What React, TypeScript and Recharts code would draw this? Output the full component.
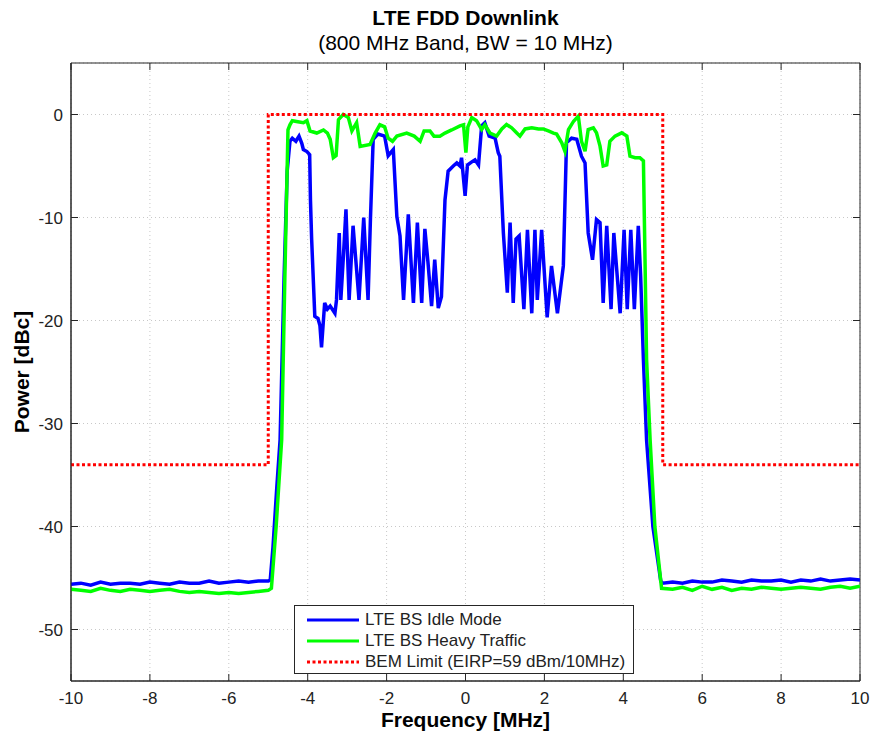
import React from 'react';
import { LineChart, Line, XAxis, YAxis, CartesianGrid, ReferenceArea } from 'recharts';

const xTicks = [-10, -8, -6, -4, -2, 0, 2, 4, 6, 8, 10];
const yTicks = [-50, -40, -30, -20, -10, 0];

const idleFreq = [
  -10, -9.75, -9.5, -9.25, -9, -8.75, -8.5, -8.25, -8, -7.75, -7.5, -7.25, -7, -6.75, -6.5, -6.25, -6, -5.75, -5.5, -5.25, -5,
  -4.95, -4.88, -4.78, -4.7, -4.6, -4.52, -4.45, -4.39, -4.3, -4.22, -4.15, -4.11, -4.02, -3.95, -3.93, -3.9, -3.82, -3.74, -3.69, -3.65,
  -3.57, -3.5, -3.43, -3.31, -3.27, -3.2, -3.16, -3.1, -3.03, -2.95, -2.85, -2.7, -2.58, -2.47, -2.41, -2.34, -2.22, -2.05, -1.96, -1.83,
  -1.74, -1.66, -1.57, -1.45, -1.32, -1.22, -1.11, -1.03, -0.95, -0.86, -0.78, -0.69, -0.61, -0.52, -0.44, -0.31, -0.22, -0.14, -0.1, -0.01,
  0.05, 0.16, 0.24, 0.33, 0.41, 0.49, 0.6, 0.75, 0.83, 0.87, 0.96, 1.06, 1.13, 1.21, 1.28, 1.36, 1.48, 1.57, 1.68, 1.76, 1.82, 1.93, 2.07,
  2.18, 2.33, 2.48, 2.56, 2.69, 2.82, 2.94, 3.03, 3.11, 3.22, 3.32, 3.41, 3.49, 3.58, 3.69, 3.76, 3.92, 4.02, 4.1, 4.19, 4.28, 4.38, 4.44,
  4.51, 4.59, 4.75, 4.95, 5,
  5.25, 5.5, 5.75, 6, 6.25, 6.5, 6.75, 7, 7.25, 7.5, 7.75, 8, 8.25, 8.5, 8.75, 9, 9.25, 9.5, 9.75, 10,
];
const idlePower = [
  -45.6, -45.5, -45.7, -45.4, -45.6, -45.5, -45.5, -45.6, -45.4, -45.5, -45.6, -45.4, -45.5, -45.5, -45.3, -45.5, -45.4, -45.3, -45.4, -45.3, -45.3,
  -45.2, -42, -36, -31.6, -16, -5.5, -2.6, -2.3, -2.6, -2.1, -2.8, -3.4, -3.6, -3.9, -8.3, -12.1, -19.6, -19.8, -20.5, -22.6,
  -18.3, -18.9, -18.6, -19.3, -18.0, -11.5, -18.0, -14.1, -9.2, -18.0, -10.8, -18.0, -10.0, -18.0, -10.2, -2.4, -1.9, -2.1, -4.0, -3.4,
  -9.9, -11.8, -18.0, -9.7, -18.3, -10.5, -18.3, -11.1, -14.4, -18.6, -14.1, -18.8, -17.7, -8.3, -5.5, -5.0, -4.7, -5.0, -4.2, -7.9,
  -4.9, -4.6, -4.4, -4.9, -1.1, -0.8, -2.1, -2.3, -3.7, -4.05, -11.5, -17.3, -10.5, -18.3, -12.1, -11.8, -18.9, -11.2, -19.3, -11.2, -18.0, -11.2, -19.7,
  -14.7, -19.3, -14.7, -2.75, -2.3, -2.4, -4.05, -4.7, -11.5, -14.1, -10.2, -10.5, -18.3, -10.8, -18.9, -11.5, -19.3, -11.2, -18.9, -11.2, -18.9, -10.8, -15.7,
  -23.8, -31.6, -40, -45.3, -45.5,
  -45.4, -45.5, -45.3, -45.4, -45.4, -45.2, -45.3, -45.4, -45.2, -45.3, -45.3, -45.2, -45.4, -45.2, -45.3, -45.1, -45.3, -45.2, -45.1, -45.2,
];

const heavyFreq = [
  -10, -9.75, -9.5, -9.25, -9, -8.75, -8.5, -8.25, -8, -7.75, -7.5, -7.25, -7, -6.75, -6.5, -6.25, -6, -5.75, -5.5, -5.25, -5,
  -4.92, -4.8, -4.66, -4.58, -4.5, -4.45, -4.39, -4.25, -4.11, -4.02, -3.94, -3.77, -3.6, -3.5, -3.43, -3.35, -3.28, -3.22, -3.1, -2.97,
  -2.88, -2.76, -2.67, -2.42, -2.29, -2.17, -2.05, -1.96, -1.85, -1.74, -1.49, -1.3, -1.15, -1.05, -0.9, -0.8, -0.65, -0.52, -0.35, -0.14,
  -0.05, 0.01, 0.06, 0.16, 0.28, 0.41, 0.49, 0.62, 0.79, 0.92, 1.04, 1.17, 1.3, 1.38, 1.51, 1.68, 1.85, 1.97, 2.1, 2.23, 2.31, 2.44, 2.52,
  2.61, 2.74, 2.86, 2.94, 3.03, 3.11, 3.24, 3.32, 3.41, 3.49, 3.58, 3.66, 3.79, 3.96, 4.09, 4.17, 4.3, 4.42, 4.51, 4.55, 4.59, 4.68, 4.8, 4.97,
  5.25, 5.5, 5.75, 6, 6.25, 6.5, 6.75, 7, 7.25, 7.5, 7.75, 8, 8.25, 8.5, 8.75, 9, 9.25, 9.5, 9.75, 10,
];
const heavyPower = [
  -46.1, -46.2, -46.3, -46.0, -46.2, -46.3, -46.1, -46.2, -46.3, -46.2, -46.1, -46.3, -46.4, -46.3, -46.4, -46.5, -46.4, -46.5, -46.4, -46.3, -46.2,
  -46.0, -40, -31.6, -16, -1.5, -1.0, -0.6, -0.7, -0.8, -0.6, -1.6, -1.8, -1.5, -1.8, -2.4, -4.2, -4.0, -0.5, 0.0, -0.3,
  -1.6, -0.8, -3.1, -2.9, -1.8, -1.0, -1.2, -2.3, -2.6, -2.1, -1.8, -2.1, -2.6, -1.6, -1.6, -2.1, -2.1, -1.8, -1.5, -1.1,
  -1.0, -3.7, -1.2, -0.3, -0.6, -1.45, -1.0, -1.8, -2.1, -1.4, -0.97, -1.3, -1.8, -2.1, -1.4, -1.3, -1.4, -1.4, -1.6, -1.8, -1.9, -2.75, -3.56,
  -1.46, -0.65, -0.16, -2.6, -3.56, -1.46, -1.3, -1.78, -3.07, -5.0, -4.9, -2.6, -2.1, -1.78, -2.1, -4.05, -4.2, -4.2, -4.5, -14, -23.8, -31.6, -40, -46.0,
  -46.1, -45.9, -46.2, -45.8, -46.1, -45.9, -46.2, -46.0, -46.1, -45.9, -46.0, -46.1, -46.0, -45.9, -46.0, -46.1, -45.9, -45.8, -46.0, -45.8,
];

const bemFreq = [-10, -5, -5, 5, 5, 10];
const bemPower = [-34, -34, 0, 0, -34, -34];

const zip = (f: number[], p: number[]) => f.map((x, i) => ({ f: x, p: p[i] }));
const idleData = zip(idleFreq, idlePower);
const heavyData = zip(heavyFreq, heavyPower);
const bemData = zip(bemFreq, bemPower);

const W = 863;
const H = 730;
const PLOT_W = 789;
const PLOT_H = 618;
const FONT = '"Liberation Sans", Arial, sans-serif';
const AXIS_COLOR = '#262626';

const XTick = (props: any) => {
  const { x, y, payload } = props;
  return (
    <g>
      <line x1={x} x2={x} y1={y} y2={y - 7} stroke={AXIS_COLOR} strokeWidth={1} />
      <line x1={x} x2={x} y1={y - PLOT_H} y2={y - PLOT_H + 7} stroke={AXIS_COLOR} strokeWidth={1} />
      <text x={x} y={y + 23} textAnchor="middle" fontSize={17} fontFamily={FONT} fill="#222">
        {payload.value}
      </text>
    </g>
  );
};

const YTick = (props: any) => {
  const { x, y, payload } = props;
  return (
    <g>
      <line x1={x} x2={x + 7} y1={y} y2={y} stroke={AXIS_COLOR} strokeWidth={1} />
      <line x1={x + PLOT_W} x2={x + PLOT_W - 7} y1={y} y2={y} stroke={AXIS_COLOR} strokeWidth={1} />
      <text x={x - 8} y={y + 6} textAnchor="end" fontSize={17} fontFamily={FONT} fill="#222">
        {payload.value}
      </text>
    </g>
  );
};

const legendItems = [
  { label: 'LTE BS Idle Mode', color: '#0000ff', dash: false },
  { label: 'LTE BS Heavy Traffic', color: '#00ff00', dash: false },
  { label: 'BEM Limit (EIRP=59 dBm/10MHz)', color: '#ff0000', dash: true },
];

export default function App() {
  return (
    <div style={{ width: 871, height: 738, padding: 8, boxSizing: 'border-box', background: '#fff' }}>
      <style>{'html,body{margin:0;overflow:hidden;}'}</style>
      <div style={{ position: 'relative', width: W, height: H, fontFamily: FONT }}>
        <div style={{ position: 'absolute', left: 0, width: 915, top: -2, textAlign: 'center', fontSize: 21, fontWeight: 'bold', color: '#000' }}>
          LTE FDD Downlink
        </div>
        <div style={{ position: 'absolute', left: 0, width: 915, top: 23, textAlign: 'center', fontSize: 21, color: '#000' }}>
          (800 MHz Band, BW = 10 MHz)
        </div>
        <LineChart width={W} height={H} margin={{ top: 55, right: 11, bottom: 16, left: 13 }}>
          <CartesianGrid stroke="#c8c8c8" strokeDasharray="1 3" vertical horizontal />
          <XAxis
            type="number"
            dataKey="f"
            domain={[-10, 10]}
            ticks={xTicks}
            allowDataOverflow
            height={41}
            tickSize={0}
            tickMargin={0}
            tickLine={false}
            axisLine={{ stroke: AXIS_COLOR }}
            tick={<XTick />}
            interval={0}
          />
          <YAxis
            type="number"
            dataKey="p"
            domain={[-55, 5]}
            ticks={yTicks}
            allowDataOverflow
            width={50}
            tickSize={0}
            tickMargin={0}
            tickLine={false}
            axisLine={{ stroke: AXIS_COLOR }}
            tick={<YTick />}
            interval={0}
          />
          <ReferenceArea x1={-10} x2={10} y1={-55} y2={5} fill="none" stroke={AXIS_COLOR} strokeWidth={1} />
          <Line data={idleData} dataKey="p" type="linear" stroke="#0000ff" strokeWidth={3.5} dot={false} isAnimationActive={false} />
          <Line data={heavyData} dataKey="p" type="linear" stroke="#00ff00" strokeWidth={3.5} dot={false} isAnimationActive={false} />
          <Line data={bemData} dataKey="p" type="linear" stroke="#ff0000" strokeWidth={3} strokeDasharray="3 2.5" dot={false} isAnimationActive={false} />
        </LineChart>
        <div
          style={{
            position: 'absolute',
            left: 286,
            top: 597,
            width: 340,
            height: 69,
            border: `1px solid ${AXIS_COLOR}`,
            background: '#fff',
            boxSizing: 'border-box',
            paddingTop: 3,
          }}
        >
          {legendItems.map((it) => (
            <div key={it.label} style={{ display: 'flex', alignItems: 'center', height: 21, fontSize: 17, color: '#222' }}>
              <svg width={70} height={10} style={{ flex: 'none' }}>
                <line
                  x1={12}
                  x2={64}
                  y1={5}
                  y2={5}
                  stroke={it.color}
                  strokeWidth={3}
                  strokeDasharray={it.dash ? '3 2.5' : undefined}
                />
              </svg>
              <span>{it.label}</span>
            </div>
          ))}
        </div>
        <div style={{ position: 'absolute', left: 0, width: 915, top: 700, textAlign: 'center', fontSize: 21, fontWeight: 'bold', color: '#000' }}>
          Frequency [MHz]
        </div>
        <div style={{ position: 'absolute', left: 14, top: 364, width: 0, height: 0 }}>
          <div style={{ position: 'absolute', transform: 'translate(-50%, -50%) rotate(-90deg)', whiteSpace: 'nowrap', fontSize: 21, fontWeight: 'bold', color: '#000' }}>
            Power [dBc]
          </div>
        </div>
      </div>
    </div>
  );
}
